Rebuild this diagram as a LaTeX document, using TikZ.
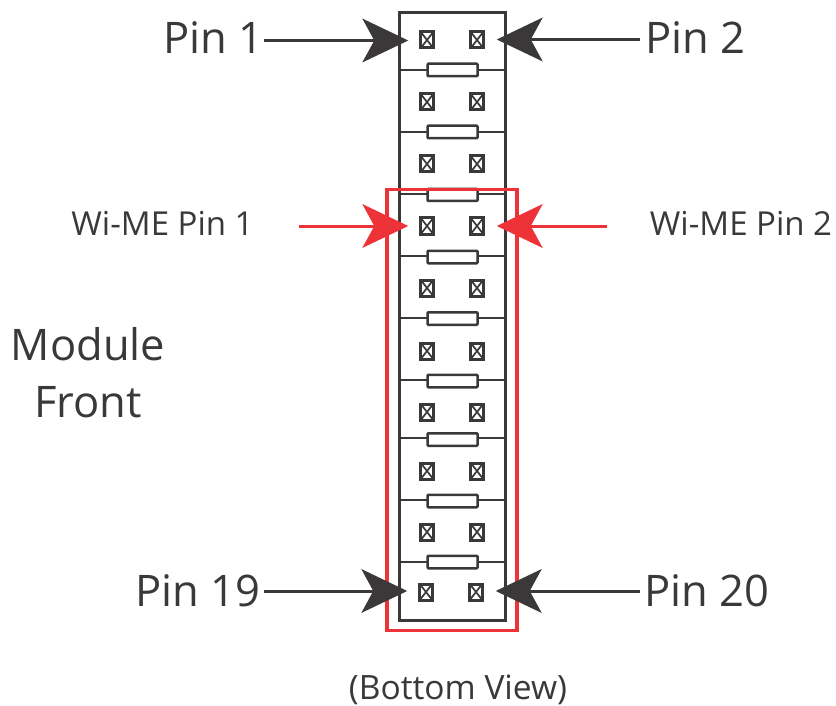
\documentclass[tikz,border=0pt]{standalone}
\usepackage{fontspec}
\setmainfont{Open Sans}
\usetikzlibrary{arrows.meta}
\definecolor{ink}{HTML}{3A3839}
\definecolor{redc}{HTML}{EE3338}
\tikzset{
  x=1pt,y=-1pt,
  pinsq/.style={draw=ink,line width=3pt,inner sep=0pt,minimum width=12.5pt,minimum height=16pt,
    path picture={\draw[ink,line width=1.7pt] (path picture bounding box.south west)--(path picture bounding box.north east)
      (path picture bounding box.north west)--(path picture bounding box.south east);}},
  fuse/.style={draw=ink,fill=white,line width=2.5pt,inner sep=0pt,minimum width=50pt,minimum height=12.5pt,rounded corners=0.8pt},
  body/.style={ink,line width=2.3pt},
  blackarrow/.style={ink,line width=3pt,-{Stealth[length=46pt,width=44pt,inset=12pt,line width=0pt]}},
  redarrow/.style={redc,line width=3pt,-{Stealth[length=46pt,width=44pt,inset=12pt,line width=0pt]}},
  big/.style={text=ink,font=\fontsize{43.5}{48}\selectfont,inner sep=0pt},
  mid/.style={text=ink,font=\fontsize{33}{38}\selectfont,inner sep=0pt},
  small/.style={text=ink,font=\fontsize{33.5}{38}\selectfont,inner sep=0pt},
}
\begin{document}
\begin{tikzpicture}
\useasboundingbox (0,0) rectangle (836,706);
\node[draw=ink,line width=2.5pt,minimum width=106pt,minimum height=608pt,inner sep=0pt] (box) at (452.5,316.5) {};
% dividers
\foreach \n/\y in {1/70,2/132,3/194,4/256,5/318,6/380,7/438,8/500,9/562}{
  \coordinate (dl\n) at (box.west |- 0,\y);
  \coordinate (dr\n) at (box.east |- 0,\y);
  \draw[body] (dl\n)--(dr\n);
}
\foreach \n/\y in {1/70,2/132,4/257,5/318.5,6/381,7/439.5,8/501,9/562}{
  \node[fuse] (f\n) at (452.5,\y) {};
}
\node[fuse,minimum height=12pt] (f3) at (452.5,195) {};
% pins
\foreach \n/\y in {1/40,2/102,3/164,4/226,5/288,6/351,7/412,8/471,9/532}{
  \node[pinsq] (a\n) at (427,\y) {};
  \node[pinsq] (b\n) at (477,\y) {};
}
\node[pinsq] (a10) at (426,592) {};
\node[pinsq] (b10) at (476,592) {};
% red frame
\node[draw=redc,line width=3.6pt,minimum width=130pt,minimum height=441pt,inner sep=0pt] (frame) at (452,410) {};
% labels
\node[big,anchor=base east] (pin1) at (263.5,54) {Pin 1};
\node[big,anchor=base west] (pin2) at (645,54) {Pin 2};
\node[big,anchor=base east] (pin19) at (260.5,606) {Pin 19};
\node[big,anchor=base west] (pin20) at (644,606) {Pin 20};
\node[mid,anchor=base] (w1) at (162.5,236) {Wi-ME Pin 1};
\node[mid,anchor=base] (w2) at (741,236) {Wi-ME Pin 2};
\node[big,anchor=base] (mod) at (88,360) {Module};
\node[big,anchor=base] (fr) at (88,417) {Front};
\node[small,anchor=base] (bv) at (458,699) {(Bottom View)};
% free ends
\coordinate (s1) at (264,40.5);
\coordinate (s2) at (640,39.5);
\coordinate (s19) at (264,591);
\coordinate (s20) at (640,591);
\coordinate (r1) at (299,226);
\coordinate (r2) at (607,226);
% arrows
\draw[blackarrow,shorten >=11pt] (s1) -- (a1.west |- s1);
\draw[blackarrow,shorten >=12pt] (s2) -- (b1.east |- s2);
\draw[blackarrow,shorten >=11pt] (s19) -- (a10.west |- s19);
\draw[blackarrow,shorten >=12pt] (s20) -- (b10.east |- s20);
\draw[redarrow,shorten >=11pt] (r1) -- (a4.west |- r1);
\draw[redarrow,shorten >=12pt] (r2) -- (b4.east |- r2);
\end{tikzpicture}
\end{document}
